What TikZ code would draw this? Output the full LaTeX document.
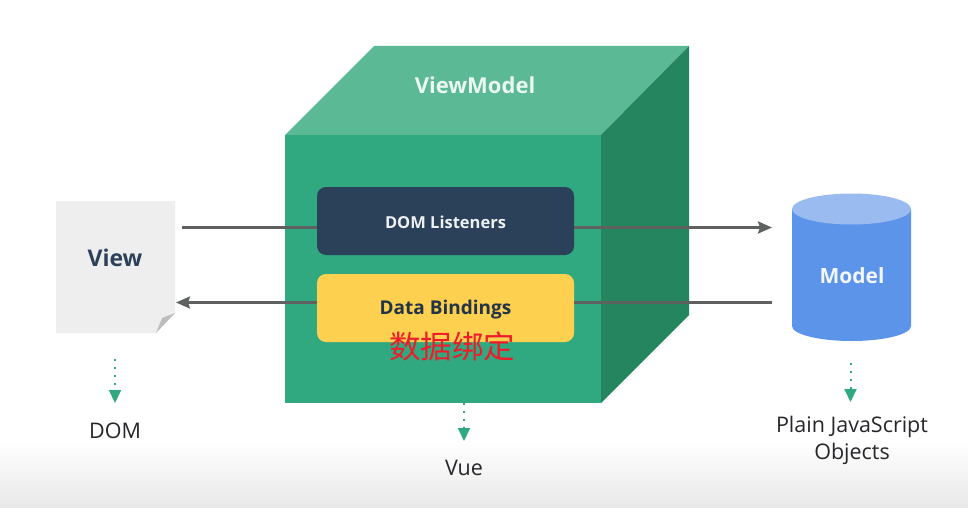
\documentclass[tikz,border=0pt]{standalone}
\usepackage{fontspec}
\setmainfont{Open Sans}
\newfontfamily\cjk{Noto Sans CJK SC}
\usetikzlibrary{arrows.meta,shadings}
\definecolor{cubefront}{HTML}{30A980}
\definecolor{cubetop}{HTML}{5BB996}
\definecolor{cubeside}{HTML}{25855F}
\definecolor{navy}{HTML}{2B4159}
\definecolor{amber}{HTML}{FDD04F}
\definecolor{papergray}{HTML}{EEEEEF}
\definecolor{foldgray}{HTML}{BDBDBD}
\definecolor{dbblue}{HTML}{5C94EA}
\definecolor{dbtop}{HTML}{9ABBF0}
\definecolor{wire}{HTML}{5F6060}
\definecolor{inktext}{HTML}{26272A}
\definecolor{redtext}{HTML}{EE1C2B}
\tikzset{
    wirearrow/.style = {draw=wire, line width=2.4pt},
    wirehead/.style = {wirearrow, -{Stealth[length=14pt,width=12pt,inset=2pt]}},
    dotarrow/.style = {draw=cubefront, line width=2pt, dash pattern=on 2pt off 6pt,
        -{Triangle[length=13pt,width=12pt]}},
    boxnode/.style = {rounded corners=9pt, minimum width=257pt, inner sep=0pt},
    caption/.style = {text=inktext, font=\fontsize{21.5}{27}\selectfont, align=center, inner sep=0pt}
}
\begin{document}
\begin{tikzpicture}[x=1pt,y=-1pt]
    \useasboundingbox (0,0) rectangle (968,508);
    \fill[white] (0,0) rectangle (968,508);
    % fade at the bottom
    \shade[top color=white, bottom color=black!9] (0,440) rectangle (968,508);

    % cube
    \fill[cubetop] (285,135) -- (374,46) -- (689,46) -- (601,135) -- cycle;
    \fill[cubeside] (601,135) -- (689,46) -- (689,315) -- (601,403) -- cycle;
    \fill[cubefront] (285,135) rectangle (601,403);
    \node (vmlabel) at (475,85) [text=white!88!cubetop, font=\fontsize{22}{26}\selectfont\bfseries, inner sep=0pt] {ViewModel};

    % paper
    \fill[papergray] (56,201) -- (175,201) -- (175,313) -- (156,333) -- (56,333) -- cycle;
    \fill[foldgray] (175,313) -- (162,318) -- (156,333) -- cycle;
    \node (view) at (115,258) [text=navy, font=\fontsize{23}{26}\selectfont\bfseries, inner sep=0pt] {View};

    % cylinder
    \fill[dbblue] (792,209) -- (792,326) arc[start angle=180, end angle=360, x radius=59.5pt, y radius=15pt]
        -- (911,209) -- cycle;
    \fill[dbtop] (851.5,209) ellipse[x radius=59.5pt, y radius=15.5pt];
    \node (model) at (852,276) [text=white!92!dbblue, font=\fontsize{21}{26}\selectfont\bfseries, inner sep=0pt] {Model};

    \node (listeners) at (445.5,221) [boxnode, fill=navy, minimum height=68pt, text=white!92!navy,
        font=\fontsize{16.5}{20}\selectfont\bfseries] {\smash{\raisebox{-7pt}{DOM Listeners}}};
    \node (bindings) at (445.5,308) [boxnode, fill=amber, minimum height=68pt, text=navy!80!black,
        font=\fontsize{19}{22}\selectfont\bfseries] {\smash{\raisebox{-6.5pt}{Data Bindings}}};
    \node (bindcn) at (452,346) [text=redtext, font=\fontsize{31.5}{34}\cjk, inner sep=0pt] {数据绑定};

    \coordinate (viewout) at (182,227.5);
    \coordinate (viewin) at (176,302.5);
    \coordinate (modelin) at (772,227.5);
    \coordinate (modelout) at (772,302.5);
    \coordinate (listenl) at (listeners.west |- viewout);
    \coordinate (listenr) at (listeners.east |- viewout);
    \coordinate (bindl) at (bindings.west |- viewin);
    \coordinate (bindr) at (bindings.east |- viewin);

    \draw[wirearrow] (viewout) -- (listenl);
    \draw[wirehead] (listenr) -- (modelin);
    \draw[wirearrow] (modelout) -- (bindr);
    \draw[wirehead] (bindl) -- (viewin);

    % captions
    \node (dom) at (115,431) [caption] {DOM};
    \node (vue) at (464,468) [caption] {Vue};
    \node (plain) at (852,440) [caption] {Plain JavaScript\\Objects};

    \coordinate (viewdot) at (115,359);
    \coordinate (domtop) at (115,403);
    \coordinate (vuedot) at (464,403);
    \coordinate (vuetop) at (464,441);
    \coordinate (modeldot) at (850.5,363);
    \coordinate (plaintop) at (850.5,402);
    \draw[dotarrow] (viewdot) -- (domtop);
    \draw[dotarrow] (vuedot) -- (vuetop);
    \draw[dotarrow] (modeldot) -- (plaintop);
\end{tikzpicture}
\end{document}
